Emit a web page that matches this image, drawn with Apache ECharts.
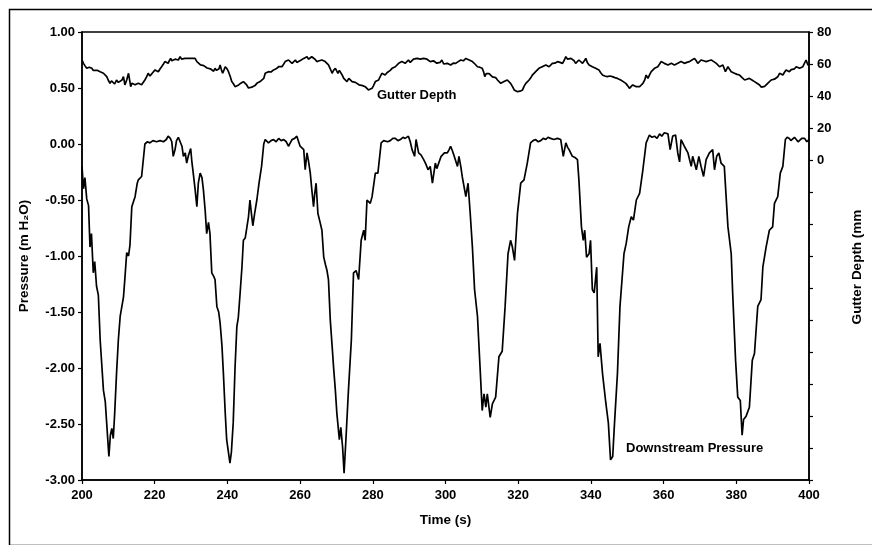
<!DOCTYPE html>
<html><head><meta charset="utf-8">
<script src="https://cdn.jsdelivr.net/npm/echarts@6/dist/echarts.min.js"></script>
<style>html,body{margin:0;padding:0;background:#fff}#c{width:872px;height:545px}</style>
</head><body><div id="c"></div>
<script>
const timeTicks=[200,400,20];
const pressureTicks=[-3,1,0.5];
const gutterTicks=[-200,80,20];
const pressureData=[[200.0,-0.20],[200.4,-0.40],[200.8,-0.30],[201.3,-0.49],[201.8,-0.55],[202.2,-0.92],[202.6,-0.80],[203.1,-1.15],[203.5,-1.05],[204.0,-1.27],[204.5,-1.35],[205.0,-1.75],[205.5,-2.00],[205.9,-2.20],[206.4,-2.30],[206.8,-2.31],[207.4,-2.79],[207.8,-2.60],[208.2,-2.54],[208.6,-2.63],[209.0,-2.40],[209.5,-2.05],[210.0,-1.75],[210.5,-1.54],[211.4,-1.37],[211.8,-1.20],[212.3,-0.97],[212.8,-1.00],[213.2,-0.90],[213.7,-0.56],[214.6,-0.47],[215.2,-0.35],[215.5,-0.32],[216.4,-0.29],[217.3,0.00],[218.0,0.02],[218.7,0.01],[219.5,0.03],[220.5,0.02],[221.5,0.03],[222.4,0.02],[223.2,0.04],[223.7,0.07],[224.3,0.05],[224.7,0.02],[225.1,-0.11],[225.6,-0.05],[226.0,0.03],[226.5,0.06],[227.0,0.06],[227.5,-0.02],[227.9,-0.11],[228.4,-0.08],[228.8,-0.17],[229.3,-0.10],[229.9,-0.04],[230.2,-0.15],[230.6,-0.26],[231.1,-0.40],[231.6,-0.56],[232.0,-0.35],[232.5,-0.26],[233.0,-0.30],[233.4,-0.41],[233.9,-0.60],[234.3,-0.80],[234.8,-0.70],[235.2,-0.80],[235.7,-1.15],[236.2,-1.18],[236.6,-1.21],[237.1,-1.45],[237.6,-1.50],[238.0,-1.60],[238.5,-1.80],[238.9,-2.05],[239.4,-2.40],[239.8,-2.64],[240.3,-2.65],[240.7,-2.85],[241.1,-2.75],[241.6,-2.49],[242.1,-2.00],[242.6,-1.63],[243.0,-1.55],[243.5,-1.33],[244.0,-1.10],[244.4,-0.86],[244.9,-0.84],[245.3,-0.83],[245.8,-0.65],[246.2,-0.50],[246.6,-0.62],[247.0,-0.73],[247.5,-0.62],[248.1,-0.50],[248.7,-0.35],[249.4,-0.20],[250.0,0.00],[250.4,0.04],[251.3,0.01],[252.0,0.03],[252.7,0.04],[253.4,0.02],[254.1,0.05],[254.8,0.03],[255.5,0.04],[256.2,0.02],[256.8,-0.02],[257.3,0.01],[257.8,0.04],[258.5,0.05],[259.1,0.07],[260.0,-0.02],[261.0,-0.05],[261.4,-0.23],[261.9,-0.08],[262.3,-0.15],[262.8,-0.26],[263.2,-0.40],[263.7,-0.56],[264.0,-0.45],[264.4,-0.35],[264.9,-0.62],[265.5,-0.70],[266.0,-0.77],[266.5,-1.01],[267.0,-1.08],[267.4,-1.13],[267.8,-1.21],[268.3,-1.57],[268.8,-1.80],[269.2,-1.99],[269.7,-2.20],[270.1,-2.40],[270.8,-2.64],[271.2,-2.53],[271.7,-2.71],[272.1,-2.94],[272.6,-2.64],[273.3,-2.20],[274.1,-1.75],[274.7,-1.15],[275.4,-1.13],[276.1,-1.21],[276.8,-0.86],[277.5,-0.77],[277.9,-0.86],[278.4,-0.50],[279.3,-0.53],[279.8,-0.47],[280.7,-0.26],[281.4,-0.26],[282.3,0.01],[283.0,0.03],[283.4,0.04],[284.1,0.02],[284.8,0.03],[285.5,0.05],[286.2,0.05],[286.9,0.03],[287.6,0.04],[288.3,0.06],[288.9,0.05],[289.8,0.07],[290.3,0.02],[290.8,-0.05],[291.5,-0.11],[291.9,0.04],[292.6,-0.08],[293.3,-0.10],[294.0,-0.14],[294.6,-0.18],[295.2,-0.23],[295.8,-0.20],[296.4,-0.35],[297.2,-0.17],[297.6,-0.22],[298.1,-0.23],[298.8,-0.11],[299.7,-0.08],[300.5,-0.08],[301.0,-0.05],[301.4,-0.02],[301.9,-0.06],[302.4,-0.11],[303.3,-0.20],[303.7,-0.11],[304.2,-0.20],[304.6,-0.29],[305.1,-0.38],[305.6,-0.47],[306.2,-0.35],[306.8,-0.62],[307.4,-0.92],[308.0,-1.30],[308.8,-1.54],[309.5,-1.99],[310.1,-2.38],[310.6,-2.23],[311.1,-2.35],[311.5,-2.23],[312.3,-2.44],[312.9,-2.32],[313.8,-2.26],[314.7,-1.90],[315.6,-1.85],[316.4,-1.45],[317.2,-0.98],[317.9,-0.86],[318.4,-0.92],[319.0,-1.04],[319.8,-0.62],[320.7,-0.35],[321.6,-0.32],[322.5,-0.17],[323.4,0.01],[324.1,0.03],[324.8,0.04],[325.5,0.02],[326.2,0.03],[326.9,0.05],[327.6,0.04],[328.2,0.06],[328.9,0.05],[329.8,0.04],[330.8,0.05],[331.7,0.04],[332.4,-0.11],[333.1,0.01],[333.6,-0.03],[334.0,-0.05],[334.9,-0.11],[335.6,-0.12],[336.3,-0.14],[336.7,-0.32],[337.4,-0.74],[337.9,-0.86],[338.3,-0.77],[338.8,-1.01],[339.5,-0.98],[339.9,-0.86],[340.4,-1.30],[340.9,-1.33],[341.6,-1.10],[342.0,-1.90],[342.5,-1.78],[343.2,-2.05],[344.1,-2.31],[344.8,-2.49],[345.4,-2.82],[346.0,-2.79],[346.5,-2.49],[347.3,-2.05],[348.0,-1.45],[349.1,-0.98],[349.7,-0.89],[350.4,-0.74],[351.1,-0.65],[351.7,-0.68],[352.5,-0.50],[353.4,-0.44],[354.3,-0.23],[355.2,0.01],[356.1,0.08],[356.8,0.06],[357.5,0.07],[358.2,0.05],[358.9,0.09],[359.5,0.07],[360.2,0.10],[361.2,0.09],[361.8,-0.05],[362.5,0.07],[363.3,0.08],[363.9,-0.08],[364.4,-0.16],[364.8,0.04],[365.7,-0.02],[366.7,-0.08],[367.6,-0.20],[368.0,-0.11],[369.0,-0.23],[369.7,-0.11],[370.3,-0.20],[371.0,-0.29],[371.7,-0.14],[372.6,-0.08],[373.5,-0.05],[374.0,-0.23],[374.6,-0.11],[375.2,-0.08],[375.8,-0.17],[376.7,-0.20],[377.7,-0.74],[378.6,-0.98],[379.0,-1.33],[379.8,-1.93],[380.4,-2.26],[381.1,-2.29],[381.6,-2.60],[382.0,-2.46],[382.7,-2.43],[383.6,-2.35],[384.4,-1.93],[385.0,-1.87],[385.9,-1.45],[386.8,-1.39],[387.3,-1.10],[388.2,-0.92],[389.1,-0.77],[390.0,-0.74],[390.5,-0.53],[391.4,-0.47],[392.1,-0.26],[392.8,-0.20],[393.5,0.04],[394.0,0.06],[394.6,0.05],[395.0,0.03],[395.5,0.04],[396.0,0.06],[396.5,0.05],[397.0,0.02],[397.4,0.03],[398.0,0.05],[398.8,0.05],[399.4,0.02],[400.0,0.04]];
const gutterData=[[200.0,62.5],[200.4,60.4],[200.8,59.0],[201.3,57.3],[202.0,58.0],[202.7,57.3],[203.1,56.0],[203.6,55.2],[204.3,56.0],[205.0,55.2],[205.9,54.2],[206.8,52.1],[207.2,50.0],[207.7,47.9],[208.1,49.5],[208.6,49.0],[209.0,47.5],[209.5,50.0],[210.0,48.5],[210.5,47.9],[211.0,50.0],[211.4,52.1],[211.8,46.9],[212.3,50.0],[212.8,54.2],[213.4,45.8],[213.7,48.0],[214.1,49.0],[214.6,47.0],[215.0,45.8],[215.5,48.0],[215.9,49.0],[216.4,47.0],[216.9,47.9],[217.3,50.0],[217.8,52.1],[218.2,54.2],[218.7,52.5],[219.1,53.1],[219.6,55.0],[220.1,56.3],[220.5,55.5],[221.0,55.2],[221.5,57.0],[221.9,58.3],[222.4,60.0],[222.8,61.5],[223.2,61.0],[223.7,60.4],[224.0,62.0],[224.4,63.5],[224.7,62.0],[225.1,61.5],[225.6,63.0],[226.0,63.5],[226.5,62.5],[227.0,64.6],[227.4,63.0],[227.9,62.5],[228.3,63.5],[228.8,64.6],[229.3,63.5],[229.8,64.0],[230.2,63.5],[230.7,62.5],[231.1,63.5],[231.6,61.5],[232.1,60.4],[232.6,59.5],[233.0,58.3],[233.5,59.0],[233.9,59.4],[234.4,57.5],[234.8,58.3],[235.3,57.0],[235.7,56.3],[236.2,55.5],[236.6,57.3],[237.0,56.0],[237.3,55.2],[237.7,57.0],[238.0,59.4],[238.4,56.0],[238.7,54.2],[239.1,56.5],[239.4,58.3],[239.9,57.0],[240.3,55.2],[240.8,52.0],[241.2,49.0],[241.7,47.5],[242.1,45.8],[242.6,46.5],[243.1,46.9],[243.7,48.0],[244.4,49.0],[244.9,48.0],[245.3,46.9],[245.8,45.0],[246.2,43.8],[246.7,45.5],[247.1,44.8],[247.6,46.5],[248.1,47.9],[248.6,48.0],[249.0,49.0],[249.5,47.9],[250.0,51.0],[250.4,54.2],[250.9,53.5],[251.3,55.2],[252.0,55.0],[252.7,56.3],[253.4,57.0],[254.1,58.3],[254.6,57.5],[255.0,58.3],[255.5,60.0],[255.9,61.5],[256.4,61.0],[256.8,62.5],[257.3,61.5],[257.8,60.4],[258.2,61.5],[258.7,62.5],[259.1,61.0],[259.6,61.5],[260.3,62.5],[261.0,63.5],[261.5,63.0],[261.9,64.6],[262.3,63.0],[262.8,63.5],[263.2,64.5],[263.7,65.6],[264.1,63.0],[264.6,61.5],[265.3,62.0],[266.0,62.5],[266.5,62.0],[266.9,61.5],[267.4,60.5],[267.8,59.4],[268.3,57.0],[268.8,54.2],[269.2,56.0],[269.7,57.3],[270.1,55.5],[270.4,54.2],[270.8,56.0],[271.2,55.2],[271.6,53.0],[272.0,51.0],[272.5,50.5],[272.9,49.0],[273.4,51.0],[273.8,50.0],[274.3,49.0],[274.7,47.9],[275.2,48.5],[275.7,47.9],[276.2,47.0],[276.6,45.8],[277.2,46.5],[277.9,45.8],[278.4,44.8],[278.8,43.8],[279.3,45.0],[279.8,44.8],[280.2,46.5],[280.7,49.0],[281.2,48.5],[281.6,50.0],[282.0,52.0],[282.5,54.2],[283.0,53.0],[283.4,53.1],[283.9,54.5],[284.3,55.2],[284.8,56.0],[285.3,57.3],[285.8,57.0],[286.2,58.3],[286.7,59.0],[287.1,60.4],[287.6,60.0],[288.0,61.5],[288.5,60.5],[288.9,60.4],[289.4,61.5],[289.8,62.5],[290.3,61.0],[290.8,61.5],[291.2,63.0],[291.7,62.5],[292.2,63.5],[292.6,64.6],[293.1,63.0],[293.5,62.5],[294.0,63.5],[294.4,64.6],[294.9,63.0],[295.4,62.5],[295.8,61.5],[296.3,60.4],[296.7,62.0],[297.2,61.5],[297.6,60.5],[298.1,59.4],[298.5,61.0],[299.0,62.5],[299.5,60.0],[300.0,59.4],[300.5,60.4],[301.0,59.5],[301.4,59.4],[302.1,60.5],[302.8,60.4],[303.5,61.5],[304.2,62.5],[304.9,62.0],[305.6,63.5],[306.0,62.5],[306.5,62.5],[307.0,61.5],[307.4,61.5],[308.1,60.0],[308.8,58.3],[309.4,58.0],[310.1,57.3],[310.5,55.0],[310.8,52.1],[311.2,54.0],[311.5,55.2],[312.0,54.0],[312.4,53.1],[312.9,52.0],[313.4,51.0],[313.8,51.5],[314.3,50.0],[314.8,49.0],[315.2,47.9],[315.7,48.5],[316.1,49.0],[316.6,48.5],[317.0,50.0],[317.5,49.0],[317.9,47.9],[318.4,46.0],[318.9,43.8],[319.3,43.0],[319.8,42.7],[320.5,43.0],[321.2,43.8],[321.6,46.0],[322.1,47.9],[322.5,49.0],[323.0,50.0],[323.5,51.5],[323.9,53.1],[324.4,54.0],[324.8,55.2],[325.3,56.0],[325.7,57.3],[326.2,57.5],[326.6,58.3],[327.1,58.5],[327.6,59.4],[328.0,58.5],[328.5,58.3],[328.9,59.5],[329.4,60.4],[330.1,60.5],[330.8,61.5],[331.5,61.0],[332.2,60.4],[332.7,62.5],[333.1,64.6],[333.6,63.0],[334.0,62.5],[334.5,63.5],[334.9,63.5],[335.4,62.0],[335.8,60.4],[336.3,61.5],[336.7,62.5],[337.2,61.5],[337.7,60.4],[338.2,62.0],[338.6,63.5],[339.0,61.0],[339.5,59.4],[340.0,59.0],[340.4,58.3],[340.9,58.0],[341.3,57.3],[341.8,57.0],[342.2,56.3],[342.7,54.5],[343.2,53.1],[343.8,52.5],[344.5,52.1],[345.2,52.5],[345.9,52.1],[346.6,51.5],[347.3,51.0],[347.8,50.5],[348.2,50.0],[348.9,49.0],[349.6,47.9],[350.1,46.5],[350.6,44.8],[351.1,46.0],[351.5,46.9],[352.0,46.0],[352.5,45.8],[353.0,46.5],[353.4,45.8],[353.9,47.0],[354.3,47.9],[354.8,50.0],[355.2,53.1],[355.7,51.0],[356.2,53.5],[356.6,55.2],[357.1,56.0],[357.5,57.3],[358.0,57.5],[358.4,58.3],[358.9,60.0],[359.3,61.5],[359.8,60.5],[360.2,60.4],[360.7,60.0],[361.2,59.4],[361.6,60.5],[362.1,60.4],[362.6,59.5],[363.0,59.4],[363.5,60.5],[363.9,60.4],[364.4,61.0],[364.8,61.5],[365.3,60.5],[365.7,60.4],[366.4,61.0],[367.1,61.5],[367.8,62.5],[368.5,63.5],[369.0,62.0],[369.4,60.4],[369.9,61.5],[370.3,62.5],[371.0,62.0],[371.7,61.5],[372.4,62.0],[373.1,62.5],[373.8,61.5],[374.5,60.4],[375.0,59.5],[375.4,58.3],[375.9,58.5],[376.3,59.4],[376.7,57.0],[377.0,55.2],[377.4,57.0],[377.7,58.3],[378.2,56.5],[378.6,55.2],[379.1,55.0],[379.5,54.2],[380.2,53.5],[380.9,53.1],[381.6,51.5],[382.3,50.0],[382.9,50.5],[383.6,51.0],[384.3,50.0],[385.0,49.0],[385.7,48.0],[386.4,46.9],[386.9,45.5],[387.3,44.8],[387.8,46.0],[388.2,46.9],[388.7,48.0],[389.1,49.0],[389.6,50.0],[390.0,51.0],[390.5,50.5],[391.0,50.0],[391.4,52.0],[391.9,54.2],[392.4,53.0],[392.8,53.1],[393.3,55.0],[393.7,56.3],[394.2,55.5],[394.6,55.2],[395.1,56.5],[395.5,57.3],[396.0,57.0],[396.5,58.3],[396.9,57.5],[397.4,57.3],[397.9,58.0],[398.3,58.3],[398.8,59.0],[399.2,62.5],[399.7,59.4],[400.0,59.4]];

const FONT='"Liberation Sans", Arial, sans-serif';
const lbl={color:'#000',fontFamily:FONT,fontWeight:'bold',fontSize:13};
const axLine={show:true,onZero:false,lineStyle:{color:'#000',width:1.5}};
const tick={show:true,length:4,lineStyle:{color:'#000',width:1.2}};
const chart=echarts.init(document.getElementById('c'),null,{renderer:'canvas'});
chart.setOption({
  animation:false,
  backgroundColor:'#fff',
  grid:{left:82,right:63,top:32,bottom:65,show:true,borderColor:'#000',borderWidth:1.5,backgroundColor:'transparent'},
  xAxis:{type:'value',min:timeTicks[0],max:timeTicks[1],interval:timeTicks[2],
    axisLine:axLine,axisTick:tick,splitLine:{show:false},
    axisLabel:Object.assign({margin:9},lbl),
    name:'Time (s)',nameLocation:'middle',nameGap:33,
    nameTextStyle:{color:'#000',fontFamily:FONT,fontWeight:'bold',fontSize:13.5}},
  yAxis:[
    {type:'value',min:pressureTicks[0],max:pressureTicks[1],interval:pressureTicks[2],position:'left',
     axisLine:axLine,axisTick:tick,splitLine:{show:false},
     axisLabel:Object.assign({margin:7,formatter:v=>v.toFixed(2)},lbl)},
    {type:'value',min:gutterTicks[0],max:gutterTicks[1],interval:gutterTicks[2],position:'right',
     axisLine:axLine,axisTick:tick,splitLine:{show:false},
     axisLabel:Object.assign({margin:8,formatter:v=>v>=0?String(v):''},lbl)}
  ],
  graphic:[
    {type:'rect',left:7,top:7,shape:{x:0,y:0,width:900,height:536},style:{fill:'none',stroke:'#000',lineWidth:1.5},silent:true,z:-1},
    {type:'text',x:24,y:256,rotation:Math.PI/2,style:{text:'Pressure (m H\u2082O)',fill:'#000',font:'bold 13.5px '+FONT,textAlign:'center',textVerticalAlign:'middle'}},
    {type:'text',x:857,y:267,rotation:Math.PI/2,style:{text:'Gutter Depth (mm',fill:'#000',font:'bold 13.5px '+FONT,textAlign:'center',textVerticalAlign:'middle'}},
    {type:'text',x:377,y:95,style:{text:'Gutter Depth',fill:'#000',font:'bold 13px '+FONT,textAlign:'left',textVerticalAlign:'middle'}},
    {type:'text',x:626,y:448,style:{text:'Downstream Pressure',fill:'#000',font:'bold 13px '+FONT,textAlign:'left',textVerticalAlign:'middle'}}
  ],
  series:[
    {name:'Downstream Pressure',type:'line',xAxisIndex:0,yAxisIndex:0,data:pressureData,showSymbol:false,
     lineStyle:{color:'#000',width:1.7},itemStyle:{color:'#000'},clip:true},
    {name:'Gutter Depth',type:'line',xAxisIndex:0,yAxisIndex:1,data:gutterData,showSymbol:false,
     lineStyle:{color:'#000',width:1.7},itemStyle:{color:'#000'},clip:true}
  ]
});
</script></body></html>
